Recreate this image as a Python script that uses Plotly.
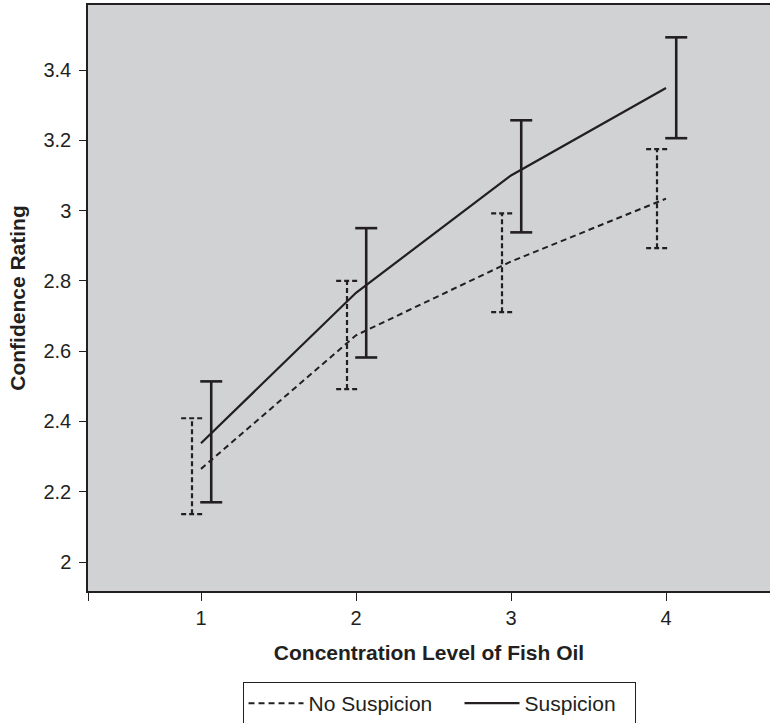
import plotly.graph_objects as go

# ---- data ----
levels = [1, 2, 3, 4]
level_labels = ["1", "2", "3", "4"]

no_susp_mean = [2.265, 2.645, 2.855, 3.034]
no_susp_low = [2.136, 2.492, 2.711, 2.893]
no_susp_high = [2.409, 2.800, 2.992, 3.175]

susp_mean = [2.338, 2.766, 3.100, 3.349]
susp_low = [2.170, 2.582, 2.938, 3.206]
susp_high = [2.514, 2.950, 3.257, 3.493]

y_ticks = [2, 2.2, 2.4, 2.6, 2.8, 3, 3.2, 3.4]
y_tick_labels = ["2", "2.2", "2.4", "2.6", "2.8", "3", "3.2", "3.4"]

INK = "#231f20"
FONT = "Liberation Sans, Arial, Helvetica, sans-serif"

X_MIN, X_MAX = 0.271, 4.671
Y_MIN, Y_MAX = 1.9175, 3.585


def error_bar_path(xs, lows, highs, offset, cap):
    px, py = [], []
    for x, lo, hi in zip(xs, lows, highs):
        xc = x + offset
        px += [xc, xc, None, xc - cap, xc + cap, None, xc - cap, xc + cap, None]
        py += [lo, hi, None, hi, hi, None, lo, lo, None]
    return px, py


fig = go.Figure()

# mean lines
fig.add_trace(go.Scatter(
    x=levels, y=no_susp_mean, mode="lines", name="No Suspicion",
    legendwidth=146,
    line=dict(color=INK, width=2, dash="6px,4px"), hoverinfo="skip"))
fig.add_trace(go.Scatter(
    x=levels, y=susp_mean, mode="lines", name="Suspicion",
    legendwidth=105,
    line=dict(color=INK, width=2.2), hoverinfo="skip"))

# error bars
ex, ey = error_bar_path(levels, no_susp_low, no_susp_high, -0.058, 0.07)
fig.add_trace(go.Scatter(
    x=ex, y=ey, mode="lines", showlegend=False, connectgaps=False,
    line=dict(color=INK, width=2.2, dash="5px,3px"), hoverinfo="skip"))
ex, ey = error_bar_path(levels, susp_low, susp_high, 0.066, 0.071)
fig.add_trace(go.Scatter(
    x=ex, y=ey, mode="lines", showlegend=False, connectgaps=False,
    line=dict(color=INK, width=2.6), hoverinfo="skip"))

fig.update_layout(
    width=770, height=723,
    margin=dict(l=88, r=0, t=5, b=132),
    paper_bgcolor="white",
    plot_bgcolor="#d1d2d4",
    font=dict(family=FONT, color=INK, size=20),
    showlegend=True,
    legend=dict(
        orientation="h", x=0.5147, xanchor="center",
        yref="container", y=1 - 682 / 723, yanchor="top",
        bordercolor=INK, borderwidth=1, bgcolor="white",
        font=dict(family=FONT, size=21, color=INK),
        traceorder="normal", itemwidth=55,
    ),
)

fig.update_xaxes(
    range=[X_MIN, X_MAX],
    tickvals=[X_MIN] + levels, ticktext=[""] + level_labels,
    ticks="outside", ticklen=8, tickwidth=1, tickcolor=INK,
    showline=True, linecolor=INK, linewidth=1.5, mirror=True,
    showgrid=False, zeroline=False,
    tickfont=dict(size=20),
    title=dict(text="<b>Concentration Level of Fish Oil</b>",
               font=dict(size=21), standoff=18),
)
fig.update_yaxes(
    range=[Y_MIN, Y_MAX],
    tickvals=y_ticks, ticktext=y_tick_labels,
    ticks="outside", ticklen=7, tickwidth=1, tickcolor=INK,
    ticklabelstandoff=4,
    showline=True, linecolor=INK, linewidth=1.5,
    showgrid=False, zeroline=False,
    tickfont=dict(size=20),
    title=dict(text="<b>Confidence Rating</b>", font=dict(size=21), standoff=12),
)

fig.write_html("out.html", config={"displayModeBar": False},
               post_script="document.body.style.margin='0px';")
